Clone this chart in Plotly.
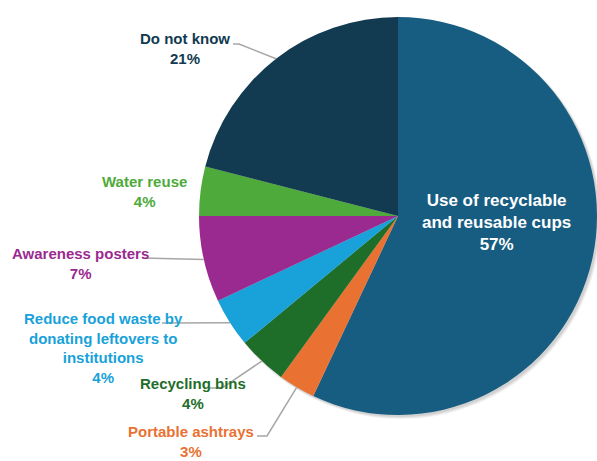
import math
import plotly.graph_objects as go

# ---- data ----
categories = ["Use of recyclable and reusable cups", "Portable ashtrays", "Recycling bins",
              "Reduce food waste by donating leftovers to institutions", "Awareness posters",
              "Water reuse", "Do not know"]
label_lines = [["Use of recyclable", "and reusable cups"], ["Portable ashtrays"], ["Recycling bins"],
               ["Reduce food waste by", "donating leftovers to", "institutions"], ["Awareness posters"],
               ["Water reuse"], ["Do not know"]]
values = [57, 3, 4, 4, 7, 4, 21]
colors = ["#175D81", "#E97233", "#1E6E29", "#18A2D9", "#9A2A90", "#4EAA3A", "#123A50"]
text_colors = ["#FFFFFF", "#E97233", "#1E6E29", "#18A2D9", "#9A2A90", "#4EAA3A", "#123A50"]

# ---- layout (pixels) ----
W, H = 597, 461
cx, cy, r = 398, 216, 199
label_xy = [(496, 222), (191, 441), (193, 393), (103, 348), (80, 263), (144, 192), (185, 48)]
font_sizes = [17, 15, 15, 15, 15, 15, 15]
leader_start = {1: [(257, 436), (267, 436)], 2: [(210, 388), (222, 388)], 3: [(162, 323)],
                4: [(142, 258)], 6: [(233, 44), (239, 44)]}

def px(x, y):
    return x / W, 1 - y / H

fig = go.Figure(go.Pie(
    labels=categories, values=values, sort=False, direction="clockwise", rotation=0,
    marker=dict(colors=colors, line=dict(width=0)), textinfo="none", hoverinfo="skip",
    showlegend=False,
    domain=dict(x=[(cx - r) / W, (cx + r) / W], y=[(H - cy - r) / H, (H - cy + r) / H]),
))

total = sum(values)
cum = 0
annotations, shapes = [], []
for i, v in enumerate(values):
    mid = (cum + v / 2) / total * 2 * math.pi
    cum += v
    ex, ey = cx + r * math.sin(mid), cy - r * math.cos(mid)
    txt = "<br>".join(label_lines[i] + [f"{v}%"])
    lx, ly = px(*label_xy[i])
    annotations.append(dict(x=lx, y=ly, xref="paper", yref="paper", text=f"<b>{txt}</b>",
                            showarrow=False, xanchor="center", yanchor="middle", align="center",
                            font=dict(family="Liberation Sans, Arial, sans-serif", size=font_sizes[i],
                                      color=text_colors[i])))
    if i in leader_start:
        pts = leader_start[i] + [(ex, ey)]
        path = "M " + " L ".join(f"{p[0]/W:.5f},{1 - p[1]/H:.5f}" for p in pts)
        shapes.append(dict(type="path", path=path, xref="paper", yref="paper",
                           line=dict(color="#A6A6A6", width=1.5), layer="above"))

# soft shadow behind pie
for k, a in [(4, 0.05), (3, 0.06), (2, 0.08)]:
    x0, y1 = px(cx - r + 2, cy - r + 2)
    x1, y0 = px(cx + r + k, cy + r + k)
    shapes.append(dict(type="circle", xref="paper", yref="paper", x0=x0, x1=x1, y0=y0, y1=y1,
                       fillcolor=f"rgba(0,0,0,{a})", line=dict(width=0), layer="below"))

fig.update_layout(width=W, height=H, margin=dict(l=0, r=0, t=0, b=0),
                  paper_bgcolor="white", plot_bgcolor="white",
                  annotations=annotations, shapes=shapes)
fig.write_html("out.html", config={"displayModeBar": False},
               post_script="document.body.style.margin='0';document.body.style.overflow='hidden';")
